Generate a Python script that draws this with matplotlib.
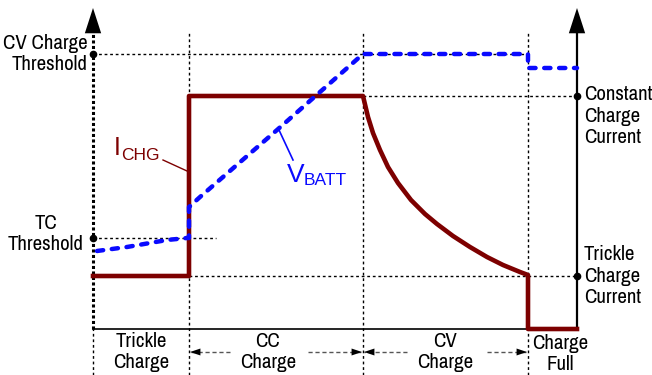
import matplotlib
matplotlib.use("Agg")
import matplotlib.pyplot as plt
from matplotlib import font_manager

# ─────────────────────────────────────────────
# DATOS (tiempo t, nivel v en unidades del diagrama)
# ─────────────────────────────────────────────
PHASE_T   = [0, 96, 270, 435, 484]     # inicio, trickle->CC, CC->CV, CV->full, fin
I_TRICKLE = 53
I_CC      = 233
V_TC      = 91
V_CV      = 275
V_END     = 261

# corriente de carga I_CHG
i_t = [0, 96, 96, 270, 275, 280, 287, 295, 305, 318, 332, 344, 360, 377, 394,
       410, 427, 435, 435, 484]
i_v = [53, 53, 233, 233, 212, 196, 179, 162, 146, 129, 115, 105, 93, 82, 72,
       64, 57, 54, 0, 0]

# tension de bateria V_BATT
v_t = [4, 34, 74, 94, 96, 96, 107, 184, 270, 435, 435, 484]
v_v = [78, 82, 89, 91, 91, 122, 132, 199, 275, 275, V_END, V_END]

phase_labels  = ["Trickle\nCharge", "CC\nCharge", "CV\nCharge", "Charge\nFull"]
phase_centers = [48, 175, 352, 467]

RED  = "#7d0000"
BLUE = "#0a0aff"
GRAY = "#555555"

# fuente estrecha si existe, si no Liberation Sans
LBL_FONT, LBL_SIZE, LBL_SPACE = "Liberation Sans", 12, 1.28
for f in font_manager.fontManager.ttflist:
    if "Narrow" in f.name or "Condensed" in f.name:
        LBL_FONT, LBL_SIZE, LBL_SPACE = f.name, 15, 1.15
        break
SUB_FONT = "Liberation Sans"

fig = plt.figure(figsize=(6.52, 3.75), dpi=100)
ax = fig.add_axes([0, 0, 1, 1])
ax.set_xlim(-93, 559)
ax.set_ylim(-46, 329)
ax.axis("off")

t0, t1, t2, t3, t4 = PHASE_T
TOP = 296
BOT = -46
dot = dict(color="black", lw=1.0, linestyle=(0, (2, 2)), zorder=1)

# lineas guia punteadas
for t in (t1, t2, t3):
    ax.plot([t, t], [BOT, TOP], **dot)
ax.plot([t0, t0], [BOT, 0], **dot)
ax.plot([t0, t3], [V_CV, V_CV], **dot)
ax.plot([t0, t1 + 27], [V_TC, V_TC], **dot)
ax.plot([t2, t4], [I_CC, I_CC], **dot)
ax.plot([t1, t4], [I_TRICKLE, I_TRICKLE], **dot)

# ejes
ax.plot([t0, t0], [0, TOP], color="black", lw=2.2, linestyle=(0, (1, 0.8)), zorder=2)
ax.plot([t4, t4], [0, TOP], color="black", lw=1.6, zorder=2)
ax.plot([t0, t4], [0, 0], color="black", lw=1.2, zorder=2)
for t in (t0, t4):
    ax.annotate("", xy=(t, 321), xytext=(t, TOP),
                arrowprops=dict(arrowstyle="-|>,head_length=1.3,head_width=0.42",
                                mutation_scale=14, color="black", lw=0,
                                shrinkA=0, shrinkB=0))

# puntos de referencia
ax.plot([t0, t0, t4, t4], [V_CV, V_TC, I_CC, I_TRICKLE], "o",
        color="black", markersize=4.5, zorder=5)

# curvas
ax.plot(i_t, i_v, color=RED, lw=3.3, solid_joinstyle="round", zorder=3)
ax.plot(v_t, v_v, color=BLUE, lw=3.2, linestyle=(0, (1.4, 1.95)),
        dash_capstyle="round", zorder=4)

# etiquetas de curvas
ax.text(21, 174, "I", color=RED, fontsize=18, family=SUB_FONT)
ax.text(28, 169, "CHG", color=RED, fontsize=12.5, family=SUB_FONT)
ax.plot([70, 94], [169, 158], color=RED, lw=1.0, zorder=3)
ax.text(194, 147, "V", color=BLUE, fontsize=19, family=SUB_FONT)
ax.text(211, 144, "BATT", color=BLUE, fontsize=12.5, family=SUB_FONT)
ax.plot([186, 200], [199, 169], color=BLUE, lw=1.2, zorder=3)

# etiquetas de niveles
lbl = dict(fontsize=LBL_SIZE, family=LBL_FONT, color="black", linespacing=LBL_SPACE)
ax.text(-5, V_CV, "CV Charge\nThreshold", ha="right", va="center", **lbl)
ax.text(-47, V_TC + 4, "TC\nThreshold", ha="center", va="center", **lbl)
ax.text(t4 + 7, I_CC - 20, "Constant\nCharge\nCurrent", ha="left", va="center", **lbl)
ax.text(t4 + 7, I_TRICKLE, "Trickle\nCharge\nCurrent", ha="left", va="center", **lbl)

# etiquetas de fases
for c, s in zip(phase_centers, phase_labels):
    dy = -25 if s.startswith("Charge") else -23
    ax.text(c, dy, s, ha="center", va="center", multialignment="center", **lbl)

# flechas de fases: trazo gris discontinuo + punta negra
head = dict(arrowstyle="-|>,head_length=0.75,head_width=0.25", mutation_scale=10,
            color="black", lw=0, shrinkA=0, shrinkB=0)
for tail, tip in [(137, 97), (215, 269), (314, 271), (394, 434)]:
    ax.plot([tail, tip], [-23, -23], color=GRAY, lw=1.0, linestyle=(0, (3, 2)), zorder=2)
    back = tip + (8 if tail > tip else -8)
    ax.annotate("", xy=(tip, -23), xytext=(back, -23), arrowprops=head)

fig.savefig("out.png", dpi=100)
